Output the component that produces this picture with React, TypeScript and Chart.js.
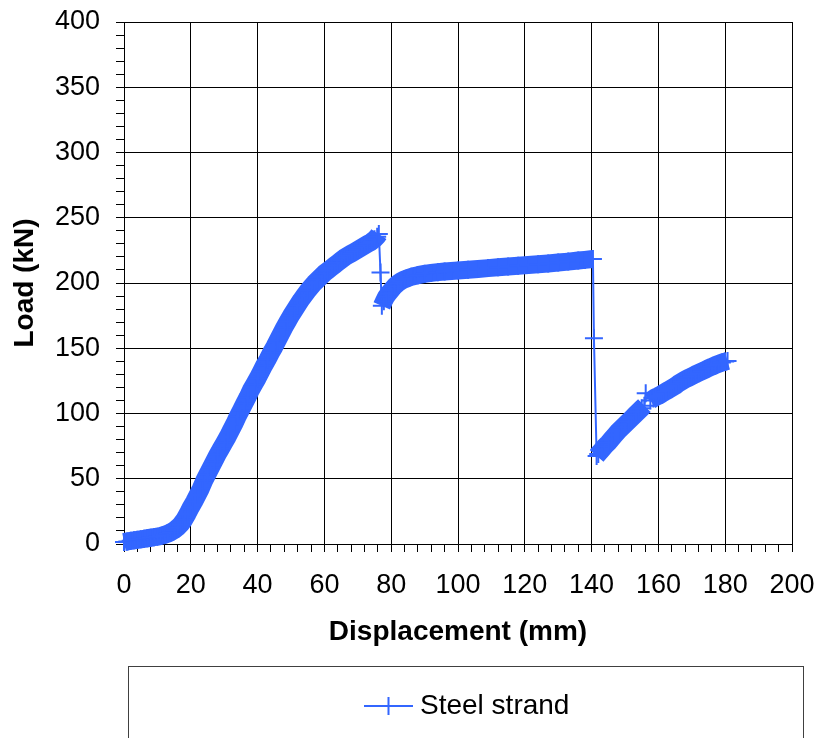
import React, { useEffect, useRef } from 'react';
import { Chart, registerables } from 'chart.js';

Chart.register(...registerables);

// ---- Data ----
// Stage 1: loading up to the first peak
const stage1Disp = [0, 1, 2, 3, 4, 5, 6, 7, 8, 9, 10, 11, 12, 13, 14, 15, 16, 17, 18, 19, 20, 21, 22, 23, 24, 25, 26, 27, 28, 29, 30, 31, 32, 33, 34, 35, 36, 37, 38, 39, 40, 41, 42, 43, 44, 45, 46, 47, 48, 49, 50, 51, 52, 53, 54, 55, 56, 57, 58, 59, 60, 61, 62, 63, 64, 65, 66, 67, 68, 69, 70, 71, 72, 73, 74, 75, 75.8, 76.3];
const stage1Load = [1.5, 2, 2.4, 2.8, 3.2, 3.6, 4, 4.4, 4.8, 5.2, 5.6, 6.2, 6.9, 7.8, 9, 10.5, 12.5, 15, 18.5, 23, 28, 32.5, 37.5, 42.5, 48.5, 53.5, 58.5, 63.5, 68.5, 73, 77.5, 82, 87, 92, 97.5, 102.5, 107.5, 112.5, 118, 122.5, 127, 132, 137, 141.5, 146.5, 151, 156, 161, 166, 170.5, 175, 179, 183, 187, 190.5, 194, 197, 200, 202.5, 205, 207.5, 209.5, 211.5, 213.5, 215.5, 217.5, 219.5, 221, 222.5, 224, 225.5, 227, 228.5, 230, 231.5, 233.5, 235.5, 237.5];
// First drop
const drop1Disp = [76.8];
const drop1Load = [208];
// Stage 2: plateau
const stage2Disp = [77.2, 77.8, 78.5, 79.2, 80, 81, 82, 83, 84, 85, 86, 87, 88, 90, 92, 94, 96, 98, 100, 103, 106, 109, 112, 115, 118, 121, 124, 127, 130, 133, 136, 138, 140.4];
const stage2Load = [182.5, 186, 189.5, 192, 194.5, 197.5, 199.8, 201.5, 202.8, 203.8, 204.7, 205.4, 206, 207, 207.7, 208.3, 208.8, 209.2, 209.6, 210.2, 210.8, 211.4, 212, 212.6, 213.2, 213.8, 214.4, 215, 215.7, 216.4, 217.2, 217.7, 218.4];
// Second drop
const drop2Disp = [140.7];
const drop2Load = [157.6];
// Stage 3: reloading
const stage3Disp = [141.5, 142, 143, 144, 145, 146, 147, 148, 149, 150, 151, 152, 153, 154, 155, 155.8, 156.2, 157.6, 158.5, 159, 160, 161, 162, 163, 164, 165, 166, 167, 168, 169, 170, 171, 172, 173, 174, 175, 176, 177, 178, 179, 180, 180.7];
const stage3Load = [67.5, 69, 72, 75, 77.5, 80.5, 83.5, 86.5, 89, 91.5, 94, 96.5, 99, 101.5, 104, 106, 115.5, 110, 111.5, 112.3, 113.5, 115, 116.6, 118, 119.5, 121, 123, 124.5, 126, 127.3, 128.6, 129.9, 131.1, 132.3, 133.5, 134.7, 135.9, 137, 138, 139, 139.8, 140.3];

const SERIES_NAME = 'Steel strand';
const X_TITLE = 'Displacement (mm)';
const Y_TITLE = 'Load (kN)';
const X_MIN = 0, X_MAX = 200, X_MAJOR = 20, X_MINOR = 4;
const Y_MIN = 0, Y_MAX = 400, Y_MAJOR = 50, Y_MINOR = 10;

const FONT = "'Liberation Sans', Arial, Helvetica, sans-serif";
const BLUE = '#3366FF';

const boxedLegend = {
  id: 'boxedLegend',
  afterDraw(chart: any) {
    const ctx = chart.ctx;
    const ds = chart.data.datasets[0];
    ctx.save();
    ctx.strokeStyle = '#404040';
    ctx.lineWidth = 1;
    ctx.strokeRect(128.5, 666.5, 675, 120);
    const cy = 706;
    const cx = 388.5;
    ctx.strokeStyle = ds.borderColor;
    ctx.lineWidth = 2;
    ctx.beginPath();
    ctx.moveTo(364, cy);
    ctx.lineTo(413, cy);
    ctx.moveTo(cx, cy - 9);
    ctx.lineTo(cx, cy + 9);
    ctx.moveTo(cx - 9, cy);
    ctx.lineTo(cx + 9, cy);
    ctx.stroke();
    ctx.fillStyle = '#000';
    ctx.font = `28px ${FONT}`;
    ctx.textBaseline = 'middle';
    ctx.textAlign = 'left';
    ctx.fillText(ds.label, 420, cy);
    ctx.restore();
  },
};

export default function App() {
  const ref = useRef<HTMLCanvasElement | null>(null);

  useEffect(() => {
    if (!ref.current) return;
    const disp = [...stage1Disp, ...drop1Disp, ...stage2Disp, ...drop2Disp, ...stage3Disp];
    const load = [...stage1Load, ...drop1Load, ...stage2Load, ...drop2Load, ...stage3Load];
    const points = disp.map((x, i) => ({ x, y: load[i] }));

    const chart = new Chart(ref.current, {
      type: 'scatter',
      data: {
        datasets: [
          {
            label: SERIES_NAME,
            data: points,
            showLine: true,
            borderColor: BLUE,
            backgroundColor: BLUE,
            borderWidth: 2,
            borderJoinStyle: 'round',
            pointStyle: 'cross',
            pointRadius: 9,
            pointBorderWidth: 2,
            pointBorderColor: BLUE,
            clip: false,
            segment: {
              borderWidth: (c: any) => {
                const dy = c.p1.parsed.y - c.p0.parsed.y;
                return dy > 8 || dy < -2 ? 2 : 18;
              },
            },
          } as any,
        ],
      },
      options: {
        responsive: false,
        animation: false,
        events: [],
        layout: { padding: { left: 0, top: 22, right: 26, bottom: 0 } },
        plugins: { legend: { display: false }, tooltip: { enabled: false } },
        scales: {
          x: {
            type: 'linear',
            min: X_MIN,
            max: X_MAX,
            border: { display: true, color: '#000', width: 1 },
            grid: {
              color: (c: any) => (c.tick && c.tick.value % X_MAJOR === 0 ? '#000' : 'rgba(0,0,0,0)'),
              tickColor: '#000',
              tickLength: 8,
              lineWidth: 1,
            },
            ticks: {
              stepSize: X_MINOR,
              autoSkip: false,
              maxRotation: 0,
              minRotation: 0,
              padding: 17,
              color: '#000',
              font: { family: FONT, size: 27 },
              callback: (v: any) => (Number(v) % X_MAJOR === 0 ? String(v) : ''),
            },
            title: {
              display: true,
              text: X_TITLE,
              color: '#000',
              font: { family: FONT, size: 28, weight: 'bold' },
              padding: { top: 0, bottom: 89 },
            },
            afterFit: (s: any) => {
              s.height = 194;
              s.paddingLeft = 0;
              s.paddingRight = 0;
            },
          },
          y: {
            type: 'linear',
            min: Y_MIN,
            max: Y_MAX,
            border: { display: true, color: '#000', width: 1 },
            grid: {
              color: (c: any) => (c.tick && c.tick.value % Y_MAJOR === 0 ? '#000' : 'rgba(0,0,0,0)'),
              tickColor: '#000',
              tickLength: 8,
              lineWidth: 1,
            },
            ticks: {
              stepSize: Y_MINOR,
              autoSkip: false,
              padding: 16,
              color: '#000',
              font: { family: FONT, size: 27 },
              callback: (v: any) => (Number(v) % Y_MAJOR === 0 ? String(v) : ''),
            },
            title: {
              display: true,
              text: Y_TITLE,
              color: '#000',
              font: { family: FONT, size: 28, weight: 'bold' },
              padding: { top: 8, bottom: 0 },
            },
            afterFit: (s: any) => {
              s.width = 124;
              s.paddingTop = 0;
              s.paddingBottom = 0;
            },
          },
        },
      } as any,
      plugins: [boxedLegend],
    });
    return () => chart.destroy();
  }, []);

  return (
    <div style={{ position: 'fixed', left: 0, top: 0, width: 818, height: 738, background: '#fff' }}>
      <canvas ref={ref} width={818} height={738} style={{ display: 'block' }} />
    </div>
  );
}
